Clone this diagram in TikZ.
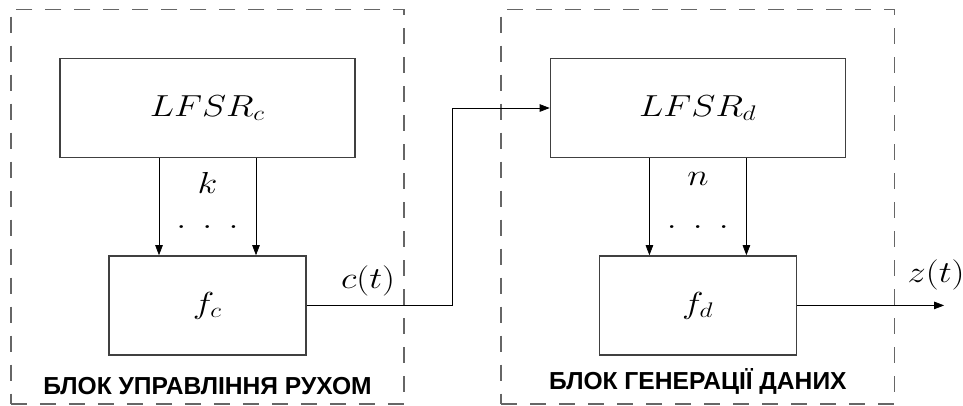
\documentclass[tikz,border=0pt]{standalone}
\usepackage{fontspec}
\usepackage{graphicx}
\usetikzlibrary{arrows.meta,positioning,fit,calc}
\newfontfamily\cyrfont{Liberation Sans}
\newcommand{\wmath}[1]{\scalebox{1.2}[1]{$#1$}}

\begin{document}
\begin{tikzpicture}[>={Triangle[length=2mm, width=1.5mm]}, font=\LARGE,
    block/.style={draw=black!75, line width=0.8pt, minimum height=1.98cm},
    group/.style={draw=black!60, line width=0.9pt, dash pattern=on 0.32cm off 0.26cm, inner sep=0.97cm},
    lbl/.style={inner sep=0pt},
    title/.style={inner sep=0pt, font=\cyrfont\bfseries\fontsize{14}{16}\selectfont}]
    \useasboundingbox (0,-0.05) rectangle (19.26,8.05);

    % Nodes
    \node[block, minimum width=5.9cm] (lfsrc) at (4.15,5.89) {\wmath{LFSR_c}};
    \node[block, minimum width=3.94cm, below=1.94cm of lfsrc] (fc) {\wmath{f_c}};
    \node[block, minimum width=5.9cm, right=3.88cm of lfsrc] (lfsrd) {\wmath{LFSR_d}};
    \node[block, minimum width=3.94cm, below=1.94cm of lfsrd] (fd) {\wmath{f_d}};

    % Dashed groups
    \node[group, fit=(lfsrc)(fc)] (ctrl) {};
    \node[group, fit=(lfsrd)(fd)] (gen) {};
    \node[title, above=0.2cm of ctrl.south] (ctrltitle) {БЛОК УПРАВЛІННЯ РУХОМ};
    \node[title, above=0.2cm of gen.south] (gentitle) {БЛОК ГЕНЕРАЦІЇ ДАНИХ};

    % Bus labels
    \node[lbl, below=0.28cm of lfsrc.south] (k) {\wmath{k}};
    \node[lbl, above=0.52cm of fc.north] (kdots) {\wmath{.\:\:.\:\:.}};
    \node[lbl, below=0.28cm of lfsrd.south] (n) {\wmath{n}};
    \node[lbl, above=0.52cm of fd.north] (ndots) {\wmath{.\:\:.\:\:.}};

    % Arrows
    \draw[->] ([xshift=-0.97cm]lfsrc.south) -- ([xshift=-0.97cm]fc.north);
    \draw[->] ([xshift=0.97cm]lfsrc.south) -- ([xshift=0.97cm]fc.north);
    \draw[->] ([xshift=-0.97cm]lfsrd.south) -- ([xshift=-0.97cm]fd.north);
    \draw[->] ([xshift=0.97cm]lfsrd.south) -- ([xshift=0.97cm]fd.north);
    \draw[->] (fc.east) -- ++(2.92,0) |- (lfsrd.west);
    \node[lbl, anchor=south west] (ct) at ([shift={(0.68,0.17)}]fc.east) {\wmath{c(t)}};

    % Output
    \coordinate (zout) at ([xshift=2.94cm]fd.east);
    \draw[->] (fd.east) -- (zout);
    \node[lbl, above=0.3cm of zout, xshift=-0.16cm] (zt) {\wmath{z(t)}};
\end{tikzpicture}
\end{document}
